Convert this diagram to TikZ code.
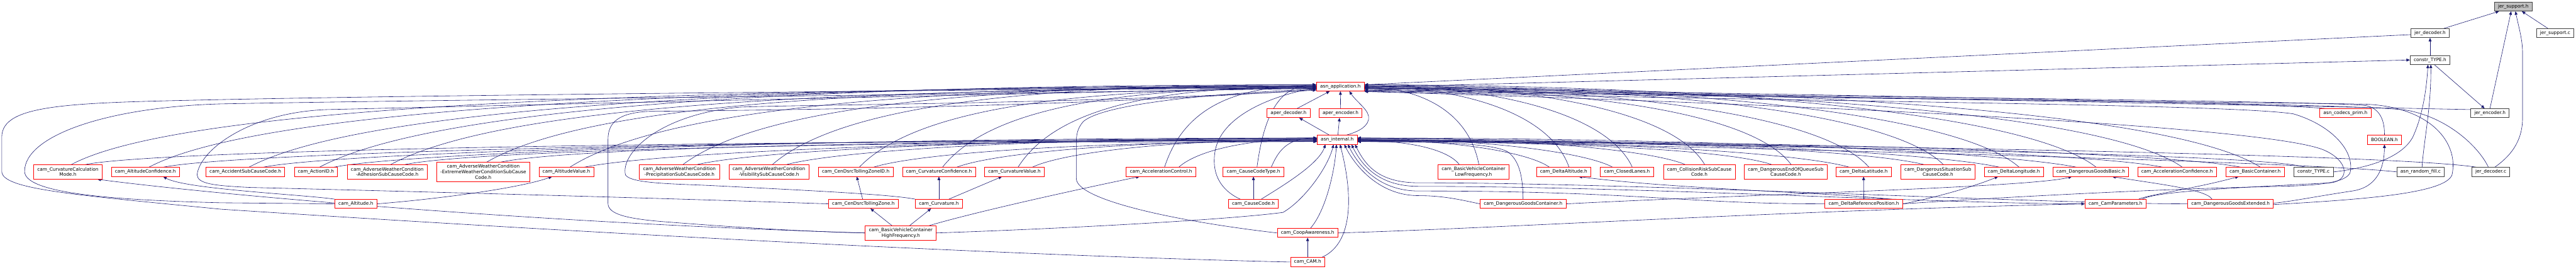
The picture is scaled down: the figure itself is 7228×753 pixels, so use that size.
\documentclass[tikz,border=0pt]{standalone}
\usepackage{fontspec}
\setmainfont{DejaVu Sans}
\usetikzlibrary{arrows.meta,calc}
\definecolor{edgeblue}{HTML}{191970}
\definecolor{boxred}{HTML}{FF0000}
\definecolor{boxgrey}{HTML}{404040}
\definecolor{rootfill}{HTML}{BFBFBF}
\pgfdeclarelayer{edges}
\pgfsetlayers{edges,main}
\tikzset{
  hdr/.style={draw=boxred, line width=0.8pt, fill=white,
    font=\fontsize{7.4}{8.7}\selectfont, align=center,
    inner xsep=5.8pt, inner ysep=1pt, minimum height=14.2pt},
  src/.style={hdr, draw=boxgrey},
  root/.style={src, fill=rootfill},
  inc/.style={draw=edgeblue, line width=0.6pt, {Triangle[length=5.5pt,width=4.6pt]}-},
}

\begin{document}
\begin{tikzpicture}[x=0.02cm, y=0.02cm]
    \useasboundingbox (0,0) rectangle (7228,-753);

    % jer_* files
    \node[root] (jsh) at (7052,-18.5) {jer\_support.h};
    \node[src] (jdh) at (6818.5,-93) {jer\_decoder.h};
    \node[src] (jsc) at (7169.5,-93) {jer\_support.c};
    \node[src] (cth) at (6818.5,-168) {constr\_TYPE.h};
    \node[src] (jeh) at (6986.5,-317) {jer\_encoder.h};
    \node[hdr] (acp) at (6581,-317) {asn\_codecs\_prim.h};
    \node[hdr] (bool) at (6690.5,-391.5) {BOOLEAN.h};
    \node[src] (arf) at (6792,-481.5) {asn\_random\_fill.c};
    \node[src] (jdc) at (6989,-481.5) {jer\_decoder.c};
    \node[src] (ctc) at (6491.5,-481.5) {constr\_TYPE.c};

    % the two hubs
    \node[hdr] (app) at (3761,-242.5) {asn\_application.h};
    \node[hdr] (apd) at (3615.5,-317) {aper\_decoder.h};
    \node[hdr] (ape) at (3761.5,-317) {aper\_encoder.h};
    \node[hdr] (asi) at (3752,-391.5) {asn\_internal.h};

    % lower rows
    \node[hdr] (alt) at (998.5,-571) {cam\_Altitude.h};
    \node[hdr] (tz) at (2422.5,-571) {cam\_CenDsrcTollingZone.h};
    \node[hdr] (crv) at (2634.5,-571) {cam\_Curvature.h};
    \node[hdr] (ccd) at (3517,-571) {cam\_CauseCode.h};
    \node[hdr] (dgc) at (4273.5,-571) {cam\_DangerousGoodsContainer.h};
    \node[hdr] (drp) at (5229.5,-571) {cam\_DeltaReferencePosition.h};
    \node[hdr] (cpa) at (5936,-571) {cam\_CamParameters.h};
    \node[hdr] (dge) at (6258.5,-571) {cam\_DangerousGoodsExtended.h};
    \node[hdr, minimum height=22.8pt] (bvh) at (2527.5,-652.5) {cam\_BasicVehicleContainer\\HighFrequency.h};
    \node[hdr] (coop) at (3669,-652.5) {cam\_CoopAwareness.h};
    \node[hdr] (cam) at (3669,-734) {cam\_CAM.h};

    % row left of the hubs
    \foreach \nm/\x/\mh/\lbl [count=\i] in {
        ccm/190.5/22.8/{cam\_CurvatureCalculation\\Mode.h},
        alc/408/14.2/{cam\_AltitudeConfidence.h},
        asc/688.5/14.2/{cam\_AccidentSubCauseCode.h},
        aid/886.5/14.2/{cam\_ActionID.h},
        adh/1086.5/22.8/{cam\_AdverseWeatherCondition\\-AdhesionSubCauseCode.h},
        ext/1356/30.7/{cam\_AdverseWeatherCondition\\-ExtremeWeatherConditionSubCause\\Code.h},
        alv/1589/14.2/{cam\_AltitudeValue.h},
        pre/1906.5/22.8/{cam\_AdverseWeatherCondition\\-PrecipitationSubCauseCode.h},
        vis/2157.5/22.8/{cam\_AdverseWeatherCondition\\-VisibilitySubCauseCode.h},
        tzi/2401/14.2/{cam\_CenDsrcTollingZoneID.h},
        ccf/2634.5/14.2/{cam\_CurvatureConfidence.h},
        cvv/2846.5/14.2/{cam\_CurvatureValue.h},
        acc/3257.5/14.2/{cam\_AccelerationControl.h},
        cct/3517/14.2/{cam\_CauseCodeType.h}} {
        \node[hdr, minimum height=\mh pt] (\nm) at (\x,-481.5) {\lbl};
        \pgfmathsetmacro\dx{3693-\x}
        \pgfmathsetmacro\dA{0.55*\dx}
        \pgfmathsetmacro\eA{min(0.12*\dx,300)}
        \pgfmathsetmacro\gA{0.5*\dx}
        \pgfmathsetmacro\fA{min(0.1*\dx,200)}
        \pgfmathsetmacro\yo{mod(\i,5)*2.5-5}
        \begin{pgfonlayer}{edges}
            \draw[inc] ($(app.west)+(0,\yo)$) .. controls +(-\dA,0) and +(\eA,160) .. ($(\nm.north)+(10,0)$);
            \draw[inc] ($(asi.west)+(0,\yo)$) .. controls +(-\gA,0) and +(\fA,40) .. ($(\nm.north)+(50,0)$);
        \end{pgfonlayer}
    }

    % row right of the hubs
    \foreach \nm/\x/\mh/\lbl [count=\i] in {
        lfq/4134.5/22.8/{cam\_BasicVehicleContainer\\LowFrequency.h},
        dal/4387.5/14.2/{cam\_DeltaAltitude.h},
        cln/4565/14.2/{cam\_ClosedLanes.h},
        crs/4768/22.8/{cam\_CollisionRiskSubCause\\Code.h},
        deq/5010.5/22.8/{cam\_DangerousEndOfQueueSub\\CauseCode.h},
        dla/5229/14.2/{cam\_DeltaLatitude.h},
        dsi/5437.5/22.8/{cam\_DangerousSituationSub\\CauseCode.h},
        dlo/5650.5/14.2/{cam\_DeltaLongitude.h},
        dgb/5866.5/14.2/{cam\_DangerousGoodsBasic.h},
        acf/6108.5/14.2/{cam\_AccelerationConfidence.h},
        bco/6327.5/14.2/{cam\_BasicContainer.h}} {
        \node[hdr, minimum height=\mh pt] (\nm) at (\x,-481.5) {\lbl};
        \pgfmathsetmacro\dx{\x-3829}
        \pgfmathsetmacro\dA{0.45*\dx}
        \pgfmathsetmacro\eA{min(0.1*\dx,250)}
        \pgfmathsetmacro\gA{0.5*\dx}
        \pgfmathsetmacro\fA{min(0.1*\dx,200)}
        \pgfmathsetmacro\yo{mod(\i,5)*2.5-5}
        \begin{pgfonlayer}{edges}
            \draw[inc] ($(app.east)+(0,\yo)$) .. controls +(\dA,0) and +(-\eA,160) .. ($(\nm.north)+(15,0)$);
            \draw[inc] ($(asi.east)+(0,\yo)$) .. controls +(\gA,0) and +(-\fA,40) .. ($(\nm.north)+(-40,0)$);
        \end{pgfonlayer}
    }

    \begin{pgfonlayer}{edges}
    % jer_support.h and friends
    \draw[inc] ($(jsh.south)+(-40,0)$) -- ($(jdh.north)+(38,0)$);
    \draw[inc] ($(jsh.south)+(-6,0)$) -- (jeh.north);
    \draw[inc] ($(jsh.south)+(6,0)$) .. controls (7068,-80) and (7078,-110) .. (7078,-150) -- (7078,-330) .. controls (7078,-400) and (7040,-440) .. ($(jdc.north)+(11,0)$);
    \draw[inc] ($(jsh.south)+(24,0)$) -- ($(jsc.north)+(-20,0)$);
    \draw[inc] (jdh.south) -- (cth.north);
    \draw[inc] ($(jeh.north)+(-15,0)$) -- ($(cth.south)+(12,0)$);
    \draw[inc] (cth.west) -- ($(app.east)+(0,-2)$);
    \draw[inc] ($(app.east)+(0,5)$) -- ($(jdh.west)+(0,-4)$);
    \draw[inc] ($(cth.south)+(2,0)$) .. controls (6822,-300) and (6800,-400) .. ($(arf.north)+(4,0)$);
    \draw[inc] ($(cth.south)+(-6,0)$) .. controls (6808,-260) and (6795,-330) .. (6770,-384) .. controls (6740,-440) and (6650,-470) .. (ctc.east);
    \draw[inc] ($(app.east)+(0,-6)$) .. controls (5000,-268) and (6600,-300) .. ($(jeh.west)+(0,10)$);
    \draw[inc] ($(app.east)+(0,-8)$) .. controls (5200,-272) and (6560,-283) .. (6640,-296) .. controls (6685,-306) and (6691,-350) .. (bool.north);
    \draw[inc] ($(app.east)+(0,-4)$) .. controls (5000,-262) and (6300,-285) .. ($(acp.north west)+(15,0)$);
    \draw[inc] ($(app.east)+(0,-10)$) .. controls (5200,-275) and (6650,-288) .. (6760,-310) .. controls (6880,-335) and (6960,-420) .. ($(jdc.north)+(-7,0)$);
    \draw[inc] ($(app.east)+(0,-12)$) .. controls (5200,-278) and (6500,-288) .. (6640,-292) .. controls (6820,-300) and (6900,-400) .. (6880,-490) .. controls (6860,-545) and (6600,-560) .. ($(dge.east)+(0,-2)$);
    \draw[inc] (asi.east) .. controls (5000,-405) and (6700,-430) .. ($(jdc.north)+(-40,0)$);
    \draw[inc] (asi.east) .. controls (5000,-415) and (6500,-455) .. (arf.west);
    \draw[inc] (asi.east) .. controls (5000,-410) and (6350,-430) .. ($(ctc.north)+(-24,0)$);
    \draw[inc] (bool.south) .. controls (6690,-470) and (6670,-525) .. (6600,-535) .. controls (6500,-550) and (6420,-566) .. ($(dge.east)+(0,2)$);

    % around the hubs
    \draw[inc] ($(app.south)+(-30,0)$) -- ($(apd.north)+(24,0)$);
    \draw[inc] (app.south) -- (ape.north);
    \draw[inc] ($(app.south)+(25,0)$) .. controls (3810,-290) and (3845,-310) .. (3840,-335) .. controls (3835,-360) and (3800,-372) .. ($(asi.north)+(26,0)$);
    \draw[inc] ($(apd.south)+(30,0)$) -- ($(asi.north)+(-22,0)$);
    \draw[inc] ($(ape.south)+(-3,0)$) -- ($(asi.north)+(2,0)$);

    % lower rows to the row above
    \draw[inc] ($(alc.south)+(50,0)$) .. controls (520,-530) and (850,-545) .. (alt.north west);
    \draw[inc] ($(alv.south)+(-40,0)$) .. controls (1450,-530) and (1200,-560) .. (alt.east);
    \draw[inc] ($(tzi.south)+(3,0)$) -- ($(tz.north)+(-2,0)$);
    \draw[inc] (ccf.south) -- (crv.north);
    \draw[inc] ($(cvv.south)+(-35,0)$) -- ($(crv.north)+(28,0)$);
    \draw[inc] (cct.south) -- (ccd.north);
    \draw[inc] ($(dgb.south)+(-53,0)$) .. controls (5700,-525) and (4900,-545) .. (dgc.east);
    \draw[inc] ($(dgb.south)+(60,0)$) .. controls (6050,-515) and (6190,-530) .. ($(dge.north)+(-52,0)$);
    \draw[inc] (dla.south) -- (drp.north);
    \draw[inc] ($(dal.south)+(42,0)$) .. controls (4700,-530) and (5150,-540) .. ($(drp.north)+(75,0)$);
    \draw[inc] ($(dlo.south)+(-44,0)$) .. controls (5520,-530) and (5400,-560) .. (drp.east);
    \draw[inc] ($(bco.south)+(-46,0)$) .. controls (6150,-530) and (6030,-545) .. ($(cpa.north)+(65,0)$);
    \draw[inc] (cpa.west) .. controls (5000,-590) and (4200,-640) .. (coop.east);
    \draw[inc] (coop.south) -- (cam.north);
    \draw[inc] ($(tz.south)+(20,0)$) -- ($(bvh.north)+(-25,0)$);
    \draw[inc] ($(crv.south)+(-22,0)$) -- ($(bvh.north)+(25,0)$);
    \draw[inc] ($(acc.south)+(-60,0)$) .. controls (3050,-525) and (2750,-590) .. ($(bvh.north)+(80,0)$);
    \draw[inc] ($(ccm.south)+(83,0)$) .. controls (600,-545) and (1500,-625) .. (bvh.west);

    % lower rows back up to the hubs
    \draw[inc] ($(app.west)+(0,-5)$) .. controls (2500,-268) and (1200,-280) .. (620,-291) .. controls (300,-300) and (69,-380) .. (69,-480) .. controls (69,-540) and (300,-560) .. (620,-568) -- (alt.west);
    \draw[inc] ($(app.west)+(0,-1)$) .. controls (2500,-255) and (1300,-265) .. (620,-279) .. controls (200,-288) and (5,-290) .. (5,-384) -- (5,-480) .. controls (5,-530) and (200,-545) .. (620,-586) .. controls (1600,-650) and (2800,-715) .. (cam.west);
    \draw[inc] ($(app.west)+(0,-8)$) .. controls (3000,-300) and (2200,-308) .. (1820,-312) .. controls (1740,-316) and (1706,-340) .. (1706,-390) -- (1706,-570) .. controls (1706,-600) and (1760,-612) .. (1850,-620) .. controls (2100,-640) and (2300,-650) .. (bvh.west);
    \draw[inc] ($(app.west)+(0,-10)$) .. controls (3000,-292) and (2300,-292) .. (2077,-300) .. controls (1850,-320) and (1740,-430) .. (1755,-490) .. controls (1770,-515) and (1900,-515) .. (2000,-520) .. controls (2300,-535) and (2500,-545) .. (crv.north west);
    \draw[inc] ($(app.west)+(0,-3)$) .. controls (2500,-270) and (1300,-298) .. (916,-307) .. controls (700,-315) and (560,-420) .. (553,-490) .. controls (555,-515) and (600,-520) .. (700,-525) .. controls (1500,-545) and (2000,-560) .. (tz.west);
    \draw[inc] ($(app.west)+(0,-7)$) .. controls (3400,-262) and (3100,-290) .. (3040,-340) .. controls (3022,-360) and (3020,-380) .. (3020,-400) -- (3020,-500) .. controls (3020,-560) and (3300,-620) .. (coop.west);
    \draw[inc] ($(app.west)+(0,-4)$) .. controls (3580,-265) and (3430,-320) .. (3410,-420) .. controls (3395,-500) and (3440,-540) .. ($(ccd.north)+(-37,0)$);
    \draw[inc] ($(asi.south)+(-33,0)$) .. controls (3700,-460) and (3600,-520) .. ($(ccd.north)+(22,0)$);
    \draw[inc] ($(asi.east)+(0,-5)$) .. controls (4000,-398) and (4180,-398) .. (4230,-425) .. controls (4265,-450) and (4273,-500) .. (dgc.north);
    \draw[inc] ($(asi.south)+(20,0)$) .. controls +(30,-60) and (3870,-548) .. (3980,-548) .. controls (4050,-548) and (4100,-560) .. (dgc.west);
    \foreach \tg/\yy/\sx in {drp/535/30, cpa/522/40, dge/512/50} {
        \draw[inc] ($(asi.south)+(\sx,0)$) .. controls +(30,-60) and (3870,-\yy) .. (3980,-\yy) .. controls (4600,-\yy) and +(-400,0) .. (\tg.west);
    }
    \draw[inc] ($(app.east)+(0,-14)$) .. controls (5000,-290) and (6350,-350) .. (6520,-420) .. controls (6590,-450) and (6595,-505) .. (6540,-512) .. controls (6300,-525) and (6050,-535) .. ($(cpa.north)+(75,0)$);
    \draw[inc] ($(app.east)+(0,-13)$) .. controls (5000,-285) and (6250,-290) .. (6435,-319) .. controls (6540,-350) and (6605,-420) .. (6595,-480) .. controls (6590,-512) and (6500,-520) .. (6400,-522) .. controls (6000,-530) and (5500,-560) .. (drp.east);
    \draw[inc] ($(asi.south)+(-10,0)$) .. controls (3725,-470) and (3660,-560) .. (3600,-595) .. controls (3450,-615) and (3000,-640) .. (bvh.east);
    \draw[inc] ($(asi.south)+(8,0)$) .. controls (3795,-540) and (3800,-680) .. ($(cam.north)+(40,0)$);
    \draw[inc] ($(asi.south)+(-2,0)$) .. controls (3745,-480) and (3720,-590) .. ($(coop.north)+(8,0)$);
    \end{pgfonlayer}
\end{tikzpicture}
\end{document}
